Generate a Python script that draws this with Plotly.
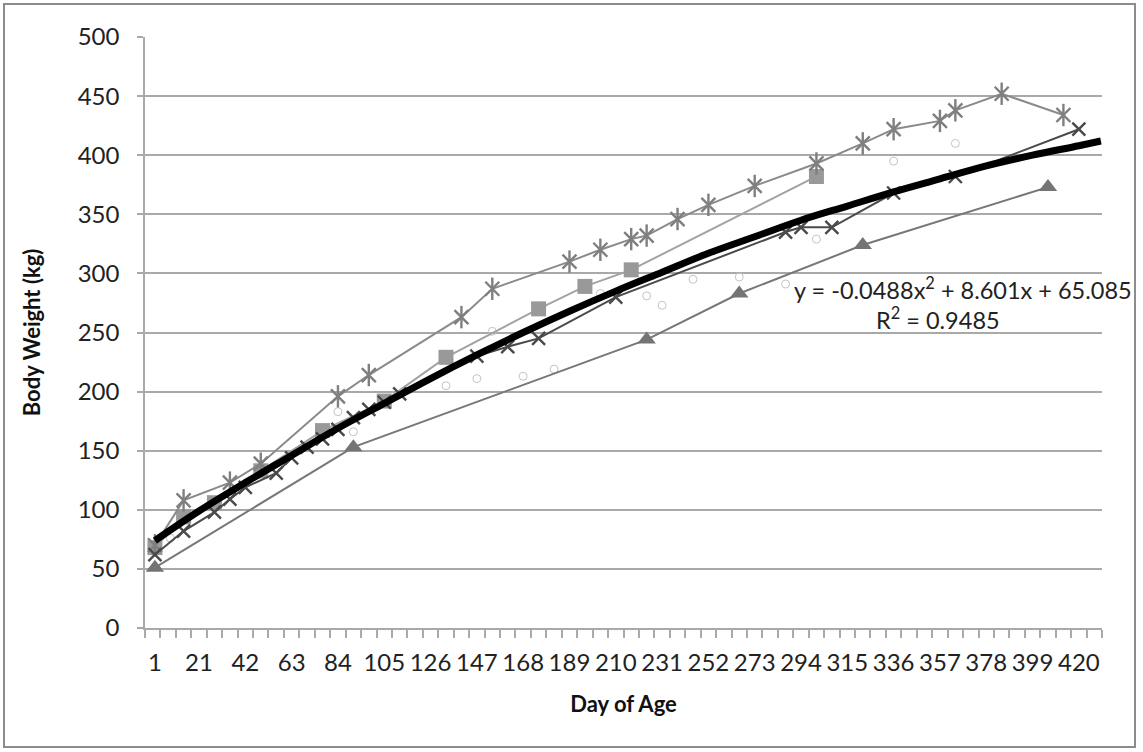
import plotly.graph_objects as go

# ---------------- data ----------------
TICK_DAYS = [1, 21, 42, 63, 84, 105, 126, 147, 168, 189, 210, 231, 252, 273,
             294, 315, 336, 357, 378, 399, 420]
TICK_TEXT = [str(d) for d in TICK_DAYS]

star_days = [1, 14, 35, 49, 84, 98, 140, 154, 189, 203, 217, 224, 238, 252,
             273, 301, 322, 336, 357, 364, 385, 413]
star_wt = [70, 108, 123, 139, 196, 214, 263, 287, 310, 320, 329, 332, 346, 358,
           374, 393, 410, 422, 429, 438, 452, 434]

square_days = [1, 14, 28, 49, 77, 105, 133, 175, 196, 217, 301]
square_wt = [68, 94, 106, 133, 167, 192, 229, 270, 289, 303, 382]

tri_days = [1, 91, 224, 266, 322, 406]
tri_wt = [51, 153, 244, 283, 324, 373]

cross_days = [1, 14, 28, 35, 42, 56, 63, 70, 77, 84, 91, 98, 105, 112, 147,
              161, 175, 210, 287, 294, 308, 336, 364, 420]
cross_wt = [62, 82, 98, 109, 119, 131, 144, 153, 160, 168, 178, 185, 191, 198,
            230, 238, 245, 280, 335, 339, 339, 368, 382, 422]

circle_days = [1, 8, 84, 91, 133, 147, 154, 168, 182, 203, 224, 231, 245, 266,
               287, 301, 336, 364]
circle_wt = [68, 76, 183, 166, 205, 211, 251, 213, 219, 283, 281, 273, 295, 297,
             291, 329, 395, 410]

trend_days = [1, 21, 42, 63, 84, 105, 126, 147, 168, 189, 210, 231, 252, 273,
              294, 315, 336, 357, 378, 399, 420, 430]
trend_wt = [74, 99, 123, 146, 169, 190, 211, 231, 250, 268, 285, 301, 317, 331,
            345, 357, 369, 380, 391, 400, 408, 412]

EQ_TEXT = "y = -0.0488x<sup>2</sup> + 8.601x + 65.085"
R2_TEXT = "R<sup>2</sup> = 0.9485"

FONT = "Lato"
GRID = "#a9a9a9"

fig = go.Figure()

# light open circles (markers only)
fig.add_trace(go.Scatter(x=circle_days, y=circle_wt, mode="markers",
                         marker=dict(symbol="circle-open", size=8, color="#c4c4c4",
                                     line=dict(width=1, color="#c4c4c4")),
                         showlegend=False))

# triangle series
fig.add_trace(go.Scatter(x=tri_days, y=tri_wt, mode="lines+markers",
                         line=dict(color="#777777", width=2),
                         marker=dict(symbol="triangle-up", size=16, color="#747474"),
                         showlegend=False))

# square series
fig.add_trace(go.Scatter(x=square_days, y=square_wt, mode="lines+markers",
                         line=dict(color="#a3a3a3", width=2),
                         marker=dict(symbol="square", size=15, color="#999999"),
                         showlegend=False))

# star series (x + vertical bar)
fig.add_trace(go.Scatter(x=star_days, y=star_wt, mode="lines+markers",
                         line=dict(color="#8a8a8a", width=2),
                         marker=dict(symbol="x-thin-open", size=14, color="#7f7f7f",
                                     line=dict(width=2.4, color="#7f7f7f")),
                         showlegend=False))
fig.add_trace(go.Scatter(x=star_days, y=star_wt, mode="markers",
                         marker=dict(symbol="line-ns-open", size=16, color="#7f7f7f",
                                     line=dict(width=2.4, color="#7f7f7f")),
                         showlegend=False))

# cross series
fig.add_trace(go.Scatter(x=cross_days, y=cross_wt, mode="lines+markers",
                         line=dict(color="#4a4a4a", width=2),
                         marker=dict(symbol="x-thin-open", size=13, color="#4a4a4a",
                                     line=dict(width=2.4, color="#4a4a4a")),
                         showlegend=False))

# polynomial trend line (thick black)
fig.add_trace(go.Scatter(x=trend_days, y=trend_wt, mode="lines",
                         line=dict(color="black", width=7, shape="spline"),
                         showlegend=False))

fig.add_annotation(x=290, y=287, xref="x", yref="y", text=EQ_TEXT,
                   showarrow=False, xanchor="left", yanchor="middle",
                   font=dict(family=FONT, size=23.5, color="#222222"))
fig.add_annotation(x=356, y=262, xref="x", yref="y", text=R2_TEXT,
                   showarrow=False, xanchor="center", yanchor="middle",
                   font=dict(family=FONT, size=23.5, color="#222222"))

# outer chart border
fig.add_shape(type="rect", xref="paper", yref="paper",
              x0=(4 - 145) / 957, x1=(1135 - 145) / 957,
              y0=(752 - 124 - 747) / 591, y1=(752 - 124 - 4) / 591,
              line=dict(color="#8c8c8c", width=2), layer="below")

fig.update_layout(
    width=1143, height=752,
    margin=dict(l=145, r=41, t=37, b=124),
    paper_bgcolor="white", plot_bgcolor="white",
    showlegend=False,
    font=dict(family=FONT, size=24, color="#222222"),
    xaxis=dict(
        range=[-3.5, 430.5],
        tickmode="array", tickvals=TICK_DAYS, ticktext=TICK_TEXT,
        ticks="", showgrid=False, zeroline=False,
        showline=True, linecolor=GRID, linewidth=1.5,
        ticklabelstandoff=12,
        tickfont=dict(family=FONT, size=24, color="#222222"),
        minor=dict(tickmode="linear", tick0=-3.5, dtick=7, ticks="outside",
                   ticklen=8, tickcolor=GRID, tickwidth=1.5, showgrid=False),
        title=dict(text="<b>Day of Age</b>", standoff=22,
                   font=dict(family=FONT, size=22, color="#111111")),
    ),
    yaxis=dict(
        range=[0, 500], tickmode="linear", tick0=0, dtick=50,
        showgrid=True, gridcolor=GRID, gridwidth=1.5, zeroline=False,
        showline=True, linecolor=GRID, linewidth=1.5,
        ticks="outside", ticklen=6, tickcolor=GRID, tickwidth=1.5,
        ticklabelstandoff=13,
        tickfont=dict(family=FONT, size=24, color="#222222"),
        title=dict(text="<b>Body Weight (kg)</b>", standoff=31,
                   font=dict(family=FONT, size=22, color="#111111")),
    ),
)

fig.write_html("out.html",
               config={"displayModeBar": False},
               post_script="document.body.style.margin='0';"
                           "document.body.style.overflow='hidden';")
